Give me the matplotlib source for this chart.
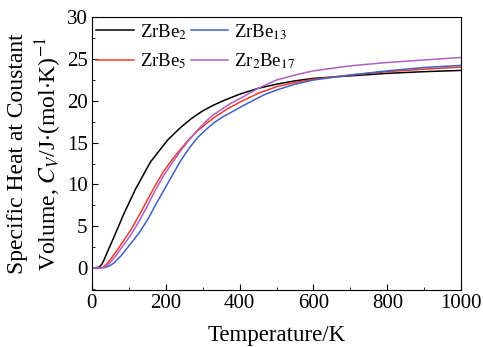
"""
Specific heat at constant volume for Zr-Be compounds.
"""

import numpy as np
import matplotlib.pyplot as plt
from matplotlib.ticker import MultipleLocator

plt.rcParams['font.family'] = 'Liberation Serif'
plt.rcParams['mathtext.fontset'] = 'stix'

# ============================================================
# Data
# ============================================================
temp_zrbe2 = [0, 20, 28, 33, 45, 60, 87, 119, 159, 205, 240, 270, 300, 330,
              360, 400, 450, 500, 550, 600, 700, 800, 900, 1000]
cv_zrbe2 = [0, 0.1, 0.5, 0.96, 2.2, 3.7, 6.5, 9.5, 12.7, 15.3, 16.8, 17.9,
            18.8, 19.5, 20.1, 20.8, 21.5, 22.0, 22.4, 22.7, 23.0, 23.3, 23.5,
            23.65]

temp_zrbe5 = [0, 30, 42, 55, 69, 85, 105, 128, 150, 172, 195, 218, 240, 263,
              286, 310, 331, 365, 403, 450, 500, 550, 600, 700, 800, 900, 1000]
cv_zrbe5 = [0, 0.05, 0.56, 1.3, 2.15, 3.2, 4.5, 6.3, 8.1, 9.9, 11.6, 13.0,
            14.2, 15.4, 16.4, 17.3, 18.0, 19.0, 19.9, 20.9, 21.7, 22.2, 22.6,
            23.1, 23.5, 23.8, 24.05]

temp_zrbe13 = [0, 35, 48, 60, 80, 105, 128, 150, 172, 195, 218, 240, 263, 286,
               310, 331, 355, 376, 400, 430, 465, 500, 550, 600, 700, 800, 900,
               1000]
cv_zrbe13 = [0, 0.05, 0.25, 0.6, 1.5, 2.9, 4.2, 5.7, 7.5, 9.3, 11.1, 12.8,
             14.3, 15.6, 16.6, 17.4, 18.1, 18.6, 19.2, 19.9, 20.7, 21.3, 22.0,
             22.5, 23.1, 23.6, 24.0, 24.25]

temp_zr2be17 = [0, 33, 42, 55, 69, 85, 105, 128, 150, 172, 195, 218, 240, 263,
                286, 310, 331, 355, 376, 410, 450, 500, 550, 600, 700, 800, 900,
                1000]
cv_zr2be17 = [0, 0.05, 0.3, 0.9, 1.7, 2.7, 3.9, 5.6, 7.4, 9.3, 11.1, 12.6,
              14.0, 15.3, 16.5, 17.6, 18.4, 19.1, 19.7, 20.5, 21.5, 22.5, 23.1,
              23.6, 24.2, 24.6, 24.9, 25.2]

# ============================================================
# Plot
# ============================================================
fig, ax = plt.subplots(figsize=(4.83, 3.47), dpi=100)

ax.plot(temp_zrbe2, cv_zrbe2, color='black', lw=1.1, label='ZrBe$_2$')
ax.plot(temp_zrbe5, cv_zrbe5, color='#f03a2a', lw=1.1, label='ZrBe$_5$')
ax.plot(temp_zrbe13, cv_zrbe13, color='#4060c8', lw=1.1, label='ZrBe$_{13}$')
ax.plot(temp_zr2be17, cv_zr2be17, color='#b060c0', lw=1.1,
        label='Zr$_2$Be$_{17}$')

ax.set_xlim(0, 1000)
ax.set_ylim(-2.6, 30)
ax.xaxis.set_major_locator(MultipleLocator(200))
ax.xaxis.set_minor_locator(MultipleLocator(100))
ax.yaxis.set_major_locator(MultipleLocator(5))
ax.yaxis.set_minor_locator(MultipleLocator(2.5))
ax.tick_params(which='both', direction='in', labelsize=15)
ax.tick_params(which='major', length=4, pad=3)
ax.tick_params(which='minor', length=2.5)

ax.set_xlabel('Temperature/K', fontsize=16.5, labelpad=9)
ax.set_ylabel('Specific Heat at Coustant\n'
              'Volume, $C_V$/J$\\cdot$(mol$\\cdot$K)$^{-1}$',
              fontsize=17, linespacing=1.25, labelpad=2)

ax.legend(ncol=2, frameon=False, fontsize=13.5, loc='upper left',
          handlelength=2.0, columnspacing=0.2, handletextpad=0.3,
          labelspacing=0.5, borderaxespad=0.05, borderpad=0.2)

fig.subplots_adjust(left=0.19, right=0.955, top=0.95, bottom=0.165)
plt.savefig('out.png', dpi=100)
